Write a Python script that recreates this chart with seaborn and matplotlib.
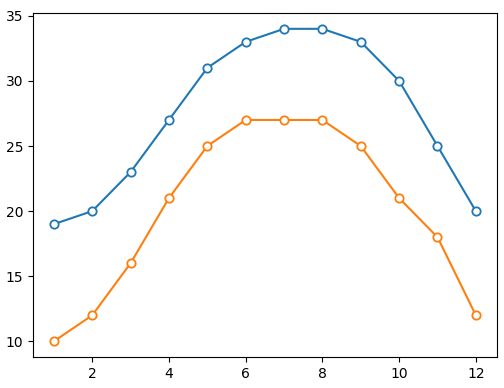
import matplotlib
matplotlib.use("Agg")
import matplotlib.pyplot as plt
import seaborn as sns
import pandas as pd

months = [1, 2, 3, 4, 5, 6, 7, 8, 9, 10, 11, 12]
high = [19, 20, 23, 27, 31, 33, 34, 34, 33, 30, 25, 20]
low = [10, 12, 16, 21, 25, 27, 27, 27, 25, 21, 18, 12]

fig = plt.figure(figsize=(5.04, 3.88), dpi=100)
ax = fig.add_axes([0.065, 0.08, 0.921, 0.886])

df = pd.DataFrame({"x": months, "high": high, "low": low})
sns.lineplot(data=df, x="x", y="high", ax=ax, color="#1f77b4", marker="o",
             markerfacecolor="white", markeredgecolor="#1f77b4", markersize=6,
             markeredgewidth=1.3)
sns.lineplot(data=df, x="x", y="low", ax=ax, color="#ff7f0e", marker="o",
             markerfacecolor="white", markeredgecolor="#ff7f0e", markersize=6,
             markeredgewidth=1.3)
ax.set_xlabel("")
ax.set_ylabel("")
ax.set_xticks([2, 4, 6, 8, 10, 12])
ax.set_yticks([10, 15, 20, 25, 30, 35])
fig.savefig("out.png", dpi=100)
